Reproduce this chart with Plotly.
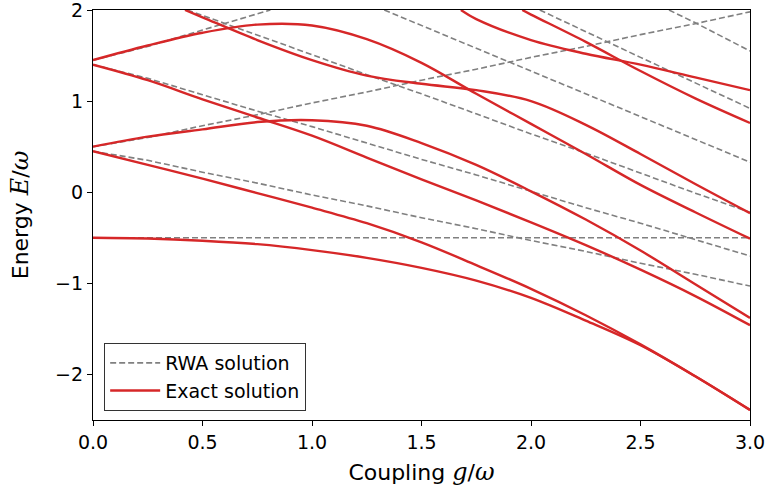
import plotly.graph_objects as go

# Coupling grid (g/omega) shared by the full-range curves
g_grid = [0.0, 0.25, 0.5, 0.75, 1.0, 1.25, 1.5, 1.75, 2.0, 2.25, 2.5, 2.75, 3.0]

# ---- RWA (Jaynes-Cummings) levels, dashed grey ----
rwa_flat_g = [0.0, 3.0]
rwa_flat_e = [-0.5, -0.5]
rwa_0_lo = [0.45, 0.35, 0.22, 0.10, -0.03, -0.15, -0.28, -0.40, -0.53, -0.65, -0.78, -0.90, -1.03]
rwa_0_hi = [0.50, 0.60, 0.73, 0.85, 0.98, 1.10, 1.23, 1.35, 1.48, 1.60, 1.73, 1.85, 1.98]
rwa_1_lo = [1.40, 1.25, 1.07, 0.89, 0.72, 0.54, 0.36, 0.19, 0.01, -0.17, -0.34, -0.52, -0.70]
rwa_1_hi_g = [0.0, 0.25, 0.5, 0.75, 0.81]
rwa_1_hi_e = [1.45, 1.60, 1.78, 1.96, 2.0]
rwa_2_lo_g = [0.43, 0.5, 0.75, 1.0, 1.25, 1.5, 1.75, 2.0, 2.25, 2.5, 2.75, 3.0]
rwa_2_lo_e = [2.0, 1.94, 1.73, 1.51, 1.29, 1.08, 0.86, 0.64, 0.43, 0.21, -0.01, -0.22]
rwa_3_lo_g = [1.33, 1.5, 1.75, 2.0, 2.25, 2.5, 2.75, 3.0]
rwa_3_lo_e = [2.0, 1.83, 1.58, 1.33, 1.08, 0.83, 0.58, 0.33]
rwa_4_lo_g = [2.04, 2.25, 2.5, 2.75, 3.0]
rwa_4_lo_e = [2.0, 1.76, 1.48, 1.20, 0.92]
rwa_5_lo_g = [2.63, 2.75, 3.0]
rwa_5_lo_e = [2.0, 1.86, 1.55]

# ---- Exact (Rabi) levels, solid red ----
exact_1 = [-0.50, -0.508, -0.532, -0.57, -0.635, -0.72, -0.83, -0.97, -1.16, -1.41, -1.68, -2.02, -2.39]
exact_2 = [0.45, 0.30, 0.15, -0.01, -0.17, -0.34, -0.55, -0.80, -1.06, -1.35, -1.67, -2.02, -2.39]
exact_3 = [0.50, 0.61, 0.69, 0.77, 0.79, 0.73, 0.54, 0.30, 0.01, -0.30, -0.64, -1.01, -1.38]
exact_4 = [1.40, 1.23, 1.02, 0.82, 0.62, 0.38, 0.14, -0.09, -0.33, -0.58, -0.85, -1.14, -1.46]
exact_5 = [1.45, 1.61, 1.75, 1.84, 1.83, 1.68, 1.42, 1.08, 0.75, 0.42, 0.08, -0.22, -0.51]
exact_6_g = [0.42, 0.5, 0.75, 1.0, 1.25, 1.5, 1.75, 2.0, 2.25, 2.5, 2.75, 3.0]
exact_6_e = [2.0, 1.92, 1.67, 1.45, 1.28, 1.19, 1.12, 1.00, 0.74, 0.42, 0.09, -0.23]
exact_7_g = [1.96, 2.0, 2.25, 2.5, 2.75, 3.0]
exact_7_e = [2.0, 1.95, 1.65, 1.33, 1.03, 0.76]
exact_8_g = [1.68, 1.75, 2.0, 2.25, 2.5, 2.75, 3.0]
exact_8_e = [2.0, 1.90, 1.67, 1.52, 1.40, 1.26, 1.12]

x_ticks = [0.0, 0.5, 1.0, 1.5, 2.0, 2.5, 3.0]
x_tick_text = ["0.0", "0.5", "1.0", "1.5", "2.0", "2.5", "3.0"]
y_ticks = [-2, -1, 0, 1, 2]
y_tick_text = ["\u22122", "\u22121", "0", "1", "2"]

RWA_COLOR = "#808080"
EXACT_COLOR = "#d62728"
FONT = "DejaVu Sans, Verdana, sans-serif"
MATH = "font-family:DejaVu Serif; font-style:italic; font-size:24px"

rwa_series = [
    (rwa_flat_g, rwa_flat_e),
    (g_grid, rwa_0_lo),
    (g_grid, rwa_0_hi),
    (g_grid, rwa_1_lo),
    (rwa_1_hi_g, rwa_1_hi_e),
    (rwa_2_lo_g, rwa_2_lo_e),
    (rwa_3_lo_g, rwa_3_lo_e),
    (rwa_4_lo_g, rwa_4_lo_e),
    (rwa_5_lo_g, rwa_5_lo_e),
]
exact_series = [
    (g_grid, exact_1),
    (g_grid, exact_2),
    (g_grid, exact_3),
    (g_grid, exact_4),
    (g_grid, exact_5),
    (exact_6_g, exact_6_e),
    (exact_7_g, exact_7_e),
    (exact_8_g, exact_8_e),
]

fig = go.Figure()
for i, (gx, ey) in enumerate(rwa_series):
    fig.add_trace(go.Scatter(
        x=gx, y=ey, mode="lines", name="RWA solution",
        legendgroup="rwa", showlegend=(i == 0),
        line=dict(color=RWA_COLOR, width=1.6, dash="6px,3px"),
        hoverinfo="skip",
    ))
for i, (gx, ey) in enumerate(exact_series):
    fig.add_trace(go.Scatter(
        x=gx, y=ey, mode="lines", name="Exact solution",
        legendgroup="exact", showlegend=(i == 0),
        line=dict(color=EXACT_COLOR, width=2.4, shape="spline", smoothing=1.0),
        hoverinfo="skip",
    ))

axis_common = dict(
    showgrid=False, zeroline=False, automargin=False,
    showline=True, linecolor="black", linewidth=1.3, mirror=True,
    ticks="outside", ticklen=5, tickwidth=1.3, tickcolor="black",
    ticklabeloverflow="allow",
    tickfont=dict(family=FONT, size=19, color="black"),
)

fig.update_layout(
    width=771, height=495,
    margin=dict(l=93, r=21, t=10, b=75),
    paper_bgcolor="white", plot_bgcolor="white",
    font=dict(family=FONT, color="black"),
    xaxis=dict(
        range=[0, 3], tickvals=x_ticks, ticktext=x_tick_text,
        title=dict(text=f"Coupling <span style='{MATH}'>g</span>/<span style='{MATH}'>ω</span>",
                   font=dict(family=FONT, size=22), standoff=12),
        **axis_common,
    ),
    yaxis=dict(
        range=[-2.5, 2], tickvals=y_ticks, ticktext=y_tick_text,
        title=dict(text=f"Energy <span style='{MATH}'>E</span>/<span style='{MATH}'>ω</span>",
                   font=dict(family=FONT, size=22), standoff=20),
        **axis_common,
    ),
    legend=dict(
        x=0.017, y=0.022, xanchor="left", yanchor="bottom",
        bgcolor="white", bordercolor="#333333", borderwidth=1,
        font=dict(family=FONT, size=19, color="black"),
        tracegroupgap=0, itemwidth=50,
    ),
    showlegend=True,
)

fig.write_html("out.html")
